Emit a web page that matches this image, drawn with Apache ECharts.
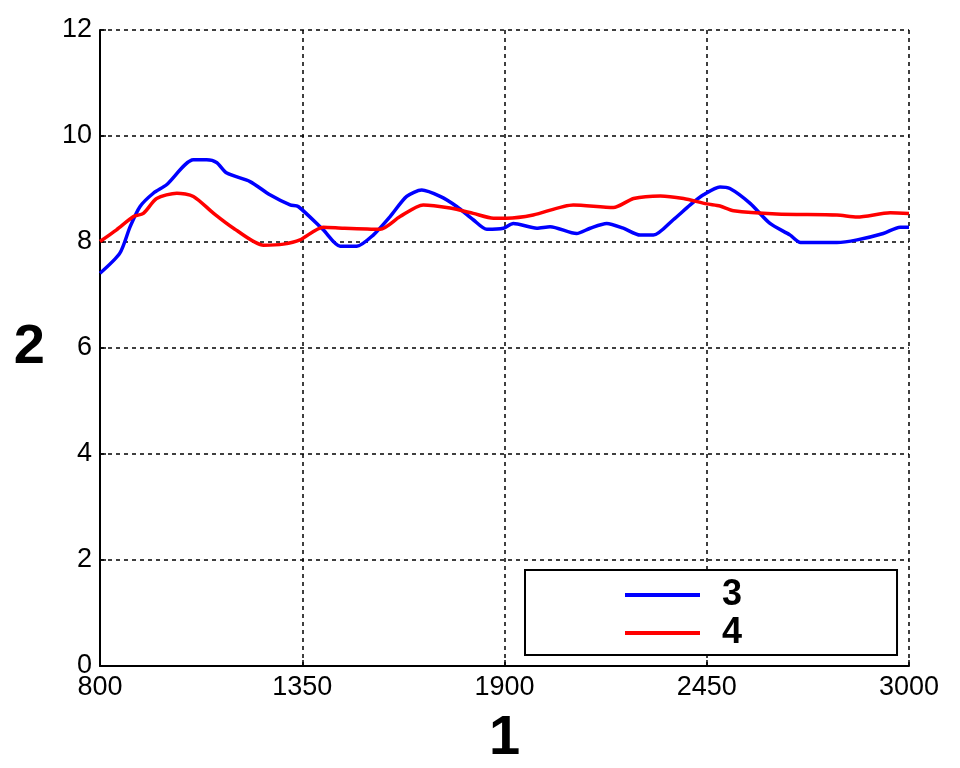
<!DOCTYPE html>
<html>
<head>
<meta charset="utf-8">
<script src="https://cdn.jsdelivr.net/npm/echarts@6/dist/echarts.min.js"></script>
<style>html,body{margin:0;padding:0;background:#fff}#c{width:960px;height:768px}</style>
</head>
<body>
<div id="c"></div>
<script>
var seriesNames = ['3', '4'];
var xBlue = [800,854,882,909,945,981,1054,1090,1117,1145,1208,1262,1317,1339,1407,1453,1498,1543,1589,1634,1675,1725,1770,1815,1852,1897,1924,1988,2024,2096,2133,2178,2223,2269,2305,2359,2405,2441,2486,2513,2568,2622,2677,2705,2804,2859,2930,2976,3000];
var yBlue = [7.41,7.79,8.29,8.67,8.92,9.08,9.55,9.55,9.50,9.30,9.14,8.89,8.70,8.67,8.23,7.92,7.92,8.13,8.48,8.86,8.98,8.86,8.67,8.42,8.24,8.26,8.35,8.26,8.29,8.16,8.26,8.35,8.26,8.13,8.13,8.42,8.70,8.89,9.04,9.01,8.73,8.35,8.13,7.99,7.99,8.04,8.16,8.28,8.28];
var xRed = [800,845,891,918,954,1009,1054,1109,1163,1245,1299,1344,1407,1462,1562,1616,1679,1752,1815,1870,1906,1978,2087,2196,2251,2324,2387,2450,2486,2523,2640,2804,2859,2949,3000];
var yRed = [8.01,8.23,8.48,8.54,8.82,8.92,8.86,8.54,8.26,7.94,7.96,8.04,8.28,8.26,8.24,8.48,8.70,8.64,8.54,8.45,8.45,8.51,8.70,8.65,8.82,8.87,8.82,8.72,8.68,8.59,8.53,8.51,8.47,8.55,8.54];
var xAxisName = '1', yAxisName = '2';

function pairs(xs, ys) { return xs.map(function (x, i) { return [x, ys[i]]; }); }

var font = '"Liberation Sans", Arial, sans-serif';
var gridLine = {show: true, lineStyle: {color: '#000', width: 1.5, type: [4, 4]}};
var chart = echarts.init(document.getElementById('c'), null, {renderer: 'canvas'});
chart.setOption({
  animation: false,
  backgroundColor: '#fff',
  grid: {left: 100, right: 51, top: 30, bottom: 102, containLabel: false, outerBoundsMode: 'none'},
  xAxis: {
    type: 'value', min: 800, max: 3000, interval: 550,
    name: xAxisName, nameLocation: 'middle', nameGap: 45,
    nameTextStyle: {fontFamily: font, fontSize: 56, fontWeight: 'bold', color: '#000'},
    axisLine: {show: true, onZero: false, lineStyle: {color: '#000', width: 2}},
    axisTick: {show: true, inside: true, length: 6, lineStyle: {color: '#000', width: 1.5}},
    axisLabel: {fontFamily: font, fontSize: 27, color: '#000', margin: 8,
      formatter: function (v) { return String(v); }},
    splitLine: gridLine
  },
  yAxis: {
    type: 'value', min: 0, max: 12, interval: 2,
    name: yAxisName, nameLocation: 'middle', nameGap: 55, nameRotate: 0,
    nameTextStyle: {fontFamily: font, fontSize: 56, fontWeight: 'bold', color: '#000'},
    axisLine: {show: true, lineStyle: {color: '#000', width: 2}},
    axisTick: {show: true, inside: true, length: 6, lineStyle: {color: '#000', width: 1.5}},
    axisLabel: {fontFamily: font, fontSize: 27, color: '#000', margin: 8},
    splitLine: gridLine
  },
  legend: {
    orient: 'vertical', left: 525, top: 570,
    data: seriesNames.map(function (n) { return {name: n, icon: 'rect'}; }),
    backgroundColor: '#fff',
    borderColor: '#000', borderWidth: 2, borderRadius: 0,
    padding: [6, 155, 3, 100],
    itemWidth: 75, itemHeight: 4, itemGap: 0,
    textStyle: {fontFamily: font, fontSize: 36, lineHeight: 38, fontWeight: 'bold', color: '#000', padding: [0, 0, 0, 17]}
  },
  series: [
    {name: seriesNames[0], type: 'line', data: pairs(xBlue, yBlue), symbol: 'none', smooth: 0.25,
     lineStyle: {color: '#0000ff', width: 3.5}, itemStyle: {color: '#0000ff'}},
    {name: seriesNames[1], type: 'line', data: pairs(xRed, yRed), symbol: 'none', smooth: 0.25,
     lineStyle: {color: '#ff0000', width: 3.5}, itemStyle: {color: '#ff0000'}}
  ]
});
</script>
</body>
</html>
